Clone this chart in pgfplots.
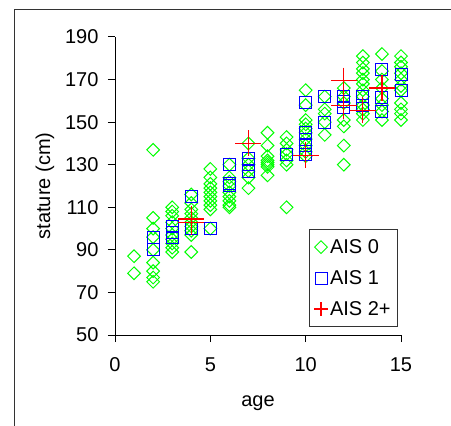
\documentclass[border=0pt]{standalone}
\usepackage{pgfplots}
\pgfplotsset{compat=1.18}
\usepackage{fontspec}
\setmainfont{Liberation Sans}

\pgfplotstableread{
age val
1 87
1 79
2 137
2 105
2 100
2 96
2 90
2 84
2 80
2 77
2 75
3 110
3 108
3 106
3 103
3 100
3 97
3 95
3 93
3 91
3 89
4 116
4 112
4 109
4 107
4 105
4 103
4 101
4 99
4 97
4 89
5 128
5 124
5 121
5 119
5 117
5 115
5 113
5 111
5 109
5 100
6 130
6 124
6 122
6 120
6 117
6 115
6 113
6 111
6 110
7 140
7 133
7 130
7 127
7 124
7 119
8 145
8 139
8 134
8 132
8 131
8 130
8 129
8 125
9 143
9 140
9 137
9 135
9 132
9 130
9 110
10 165
10 158
10 151
10 149
10 147
10 145
10 142
10 139
10 136
10 134
11 162
11 156
11 154
11 150
11 144
12 166
12 162
12 159
12 151
12 148
12 139
12 130
13 181
13 178
13 175
13 173
13 170
13 168
13 165
13 162
13 158
13 156
13 154
13 151
14 182
14 174
14 170
14 166
14 161
14 158
14 155
14 151
15 181
15 178
15 176
15 173
15 170
15 167
15 165
15 159
15 156
15 154
15 151
}\aiszero

\pgfplotstableread{
age val
2 96
2 90
3 101
3 98
3 96
4 115
4 100
5 100
6 130
6 120
6 121
7 133
7 130
7 127
9 135
10 159
10 145
10 142
10 139
10 135
11 162
11 150
12 162
12 159.5
12 157
13 162
13 158
14 174.5
14 161.5
14 155
15 172.5
15 165
}\aisone

\pgfplotstableread{
age val
4 104.5
4 103
7 140
10 134.5
12 169.5
12 157.7
13 155.6
14 166
}\aistwo

\begin{document}
\begin{tikzpicture}
\useasboundingbox (0bp,0bp) rectangle (451bp,426bp);
\draw[line width=1.5bp, black!80] (14.5bp,-5bp) -- (14.5bp,416.5bp) -- (460bp,416.5bp);
\begin{axis}[
  at={(115bp,91bp)}, anchor=south west,
  scale only axis, width=286bp, height=298bp,
  xmin=0, xmax=15, ymin=50, ymax=190,
  axis lines*=left,
  xtick={0,5,10,15}, ytick={50,70,...,190},
  tick align=outside, major tick length=7bp,
  tick style={black, line width=1bp},
  axis line style={black, line width=1bp},
  /pgf/number format/assume math mode=true,
  every tick label/.append style={font=\fontsize{20bp}{24bp}\selectfont},
  yticklabel style={xshift=-6bp},
  xticklabel style={yshift=-12bp},
  label style={font=\fontsize{20bp}{24bp}\selectfont},
  xlabel={age}, ylabel={stature (cm)},
  xlabel style={at={(rel axis cs:0.5,0)}, anchor=base, yshift=-71bp},
  ylabel style={at={(rel axis cs:0,0.5)}, anchor=base, yshift=65bp},
  legend style={at={(rel axis cs:0.9895,0.3557)}, anchor=north east,
    font=\fontsize{20bp}{24bp}\selectfont,
    row sep=11.5bp, inner xsep=5bp, inner ysep=8bp},
  every axis legend/.append style={draw=black!80, line width=0.8bp},
  legend cell align=left,
  clip=false,
]
\addplot[color=green, only marks, mark=square, mark size=4.5bp,
  mark options={rotate=45, draw=green, fill=none, line width=1bp}]
  table[x=age,y=val] {\aiszero};
\addlegendentry{AIS 0}
\addplot[color=blue, only marks, mark=square, mark size=6bp,
  mark options={draw=blue, fill=none, line width=1bp}]
  table[x=age,y=val] {\aisone};
\addlegendentry{AIS 1}
\addplot[color=red, only marks, mark=+, mark size=13bp,
  mark options={draw=red, line width=1.2bp},
  legend image post style={mark size=7bp, line width=1.2bp}]
  table[x=age,y=val] {\aistwo};
\addlegendentry{AIS 2+}
\end{axis}
\end{tikzpicture}
\end{document}
